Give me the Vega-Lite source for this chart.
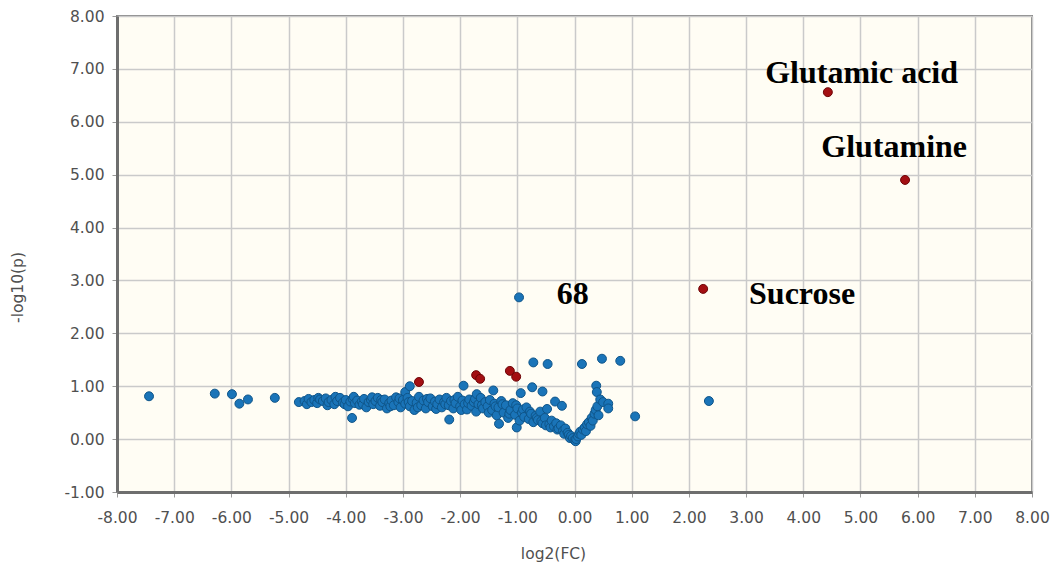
{
  "$schema": "https://vega.github.io/schema/vega-lite/v6.json",
  "autosize": {"type": "none"},
  "width": 915,
  "height": 476,
  "padding": {"left": 117, "top": 16, "right": 24, "bottom": 77},
  "background": "#ffffff",
  "config": {
    "view": {"fill": "#FFFDF4", "stroke": "#858585", "strokeWidth": 2},
    "axis": {
      "labelFont": "DejaVu Sans",
      "labelFontSize": 15.5,
      "labelColor": "#505050",
      "labelOverlap": false,
      "labelFlush": false,
      "titleFont": "DejaVu Sans",
      "titleFontSize": 15.5,
      "titleFontWeight": "normal",
      "titleColor": "#505050",
      "gridColor": "#CACACA",
      "gridWidth": 1.5,
      "domainColor": "#6E6E6E",
      "domainWidth": 3,
      "tickColor": "#9A9A9A",
      "tickSize": 5
    }
  },
  "datasets": {
    "points": [
      {"x": -7.44, "y": 0.81, "g": "ns"},
      {"x": -6.29, "y": 0.86, "g": "ns"},
      {"x": -5.99, "y": 0.85, "g": "ns"},
      {"x": -5.86, "y": 0.67, "g": "ns"},
      {"x": -5.71, "y": 0.75, "g": "ns"},
      {"x": -5.24, "y": 0.78, "g": "ns"},
      {"x": -4.82, "y": 0.70, "g": "ns"},
      {"x": -4.72, "y": 0.72, "g": "ns"},
      {"x": -4.68, "y": 0.66, "g": "ns"},
      {"x": -4.65, "y": 0.76, "g": "ns"},
      {"x": -4.60, "y": 0.70, "g": "ns"},
      {"x": -4.55, "y": 0.74, "g": "ns"},
      {"x": -4.50, "y": 0.68, "g": "ns"},
      {"x": -4.48, "y": 0.78, "g": "ns"},
      {"x": -4.45, "y": 0.75, "g": "ns"},
      {"x": -4.40, "y": 0.72, "g": "ns"},
      {"x": -4.35, "y": 0.77, "g": "ns"},
      {"x": -4.32, "y": 0.64, "g": "ns"},
      {"x": -4.30, "y": 0.70, "g": "ns"},
      {"x": -4.25, "y": 0.74, "g": "ns"},
      {"x": -4.20, "y": 0.66, "g": "ns"},
      {"x": -4.18, "y": 0.80, "g": "ns"},
      {"x": -4.15, "y": 0.72, "g": "ns"},
      {"x": -4.10, "y": 0.78, "g": "ns"},
      {"x": -4.05, "y": 0.69, "g": "ns"},
      {"x": -4.02, "y": 0.66, "g": "ns"},
      {"x": -4.00, "y": 0.74, "g": "ns"},
      {"x": -3.96, "y": 0.62, "g": "ns"},
      {"x": -3.92, "y": 0.71, "g": "ns"},
      {"x": -3.89, "y": 0.40, "g": "ns"},
      {"x": -3.88, "y": 0.76, "g": "ns"},
      {"x": -3.86, "y": 0.80, "g": "ns"},
      {"x": -3.84, "y": 0.68, "g": "ns"},
      {"x": -3.80, "y": 0.73, "g": "ns"},
      {"x": -3.76, "y": 0.65, "g": "ns"},
      {"x": -3.72, "y": 0.71, "g": "ns"},
      {"x": -3.70, "y": 0.66, "g": "ns"},
      {"x": -3.68, "y": 0.76, "g": "ns"},
      {"x": -3.64, "y": 0.60, "g": "ns"},
      {"x": -3.60, "y": 0.70, "g": "ns"},
      {"x": -3.56, "y": 0.74, "g": "ns"},
      {"x": -3.54, "y": 0.79, "g": "ns"},
      {"x": -3.52, "y": 0.66, "g": "ns"},
      {"x": -3.48, "y": 0.72, "g": "ns"},
      {"x": -3.44, "y": 0.78, "g": "ns"},
      {"x": -3.40, "y": 0.63, "g": "ns"},
      {"x": -3.38, "y": 0.74, "g": "ns"},
      {"x": -3.36, "y": 0.70, "g": "ns"},
      {"x": -3.32, "y": 0.75, "g": "ns"},
      {"x": -3.28, "y": 0.58, "g": "ns"},
      {"x": -3.24, "y": 0.68, "g": "ns"},
      {"x": -3.22, "y": 0.62, "g": "ns"},
      {"x": -3.20, "y": 0.73, "g": "ns"},
      {"x": -3.16, "y": 0.64, "g": "ns"},
      {"x": -3.12, "y": 0.79, "g": "ns"},
      {"x": -3.08, "y": 0.70, "g": "ns"},
      {"x": -3.06, "y": 0.77, "g": "ns"},
      {"x": -3.04, "y": 0.60, "g": "ns"},
      {"x": -3.00, "y": 0.74, "g": "ns"},
      {"x": -2.96, "y": 0.67, "g": "ns"},
      {"x": -2.96, "y": 0.89, "g": "ns"},
      {"x": -2.92, "y": 0.78, "g": "ns"},
      {"x": -2.90, "y": 0.70, "g": "ns"},
      {"x": -2.88, "y": 1.00, "g": "ns"},
      {"x": -2.88, "y": 0.62, "g": "ns"},
      {"x": -2.84, "y": 0.72, "g": "ns"},
      {"x": -2.80, "y": 0.55, "g": "ns"},
      {"x": -2.76, "y": 0.69, "g": "ns"},
      {"x": -2.74, "y": 0.60, "g": "ns"},
      {"x": -2.72, "y": 0.80, "g": "ns"},
      {"x": -2.68, "y": 0.64, "g": "ns"},
      {"x": -2.64, "y": 0.73, "g": "ns"},
      {"x": -2.60, "y": 0.58, "g": "ns"},
      {"x": -2.58, "y": 0.76, "g": "ns"},
      {"x": -2.56, "y": 0.70, "g": "ns"},
      {"x": -2.52, "y": 0.77, "g": "ns"},
      {"x": -2.48, "y": 0.62, "g": "ns"},
      {"x": -2.44, "y": 0.71, "g": "ns"},
      {"x": -2.42, "y": 0.57, "g": "ns"},
      {"x": -2.40, "y": 0.66, "g": "ns"},
      {"x": -2.36, "y": 0.75, "g": "ns"},
      {"x": -2.32, "y": 0.60, "g": "ns"},
      {"x": -2.28, "y": 0.70, "g": "ns"},
      {"x": -2.26, "y": 0.66, "g": "ns"},
      {"x": -2.24, "y": 0.78, "g": "ns"},
      {"x": -2.20, "y": 0.64, "g": "ns"},
      {"x": -2.19, "y": 0.37, "g": "ns"},
      {"x": -2.16, "y": 0.72, "g": "ns"},
      {"x": -2.12, "y": 0.58, "g": "ns"},
      {"x": -2.10, "y": 0.74, "g": "ns"},
      {"x": -2.08, "y": 0.68, "g": "ns"},
      {"x": -2.04, "y": 0.80, "g": "ns"},
      {"x": -2.00, "y": 0.62, "g": "ns"},
      {"x": -1.98, "y": 0.55, "g": "ns"},
      {"x": -1.96, "y": 0.73, "g": "ns"},
      {"x": -1.94, "y": 1.01, "g": "ns"},
      {"x": -1.92, "y": 0.66, "g": "ns"},
      {"x": -1.88, "y": 0.56, "g": "ns"},
      {"x": -1.86, "y": 0.68, "g": "ns"},
      {"x": -1.84, "y": 0.75, "g": "ns"},
      {"x": -1.80, "y": 0.63, "g": "ns"},
      {"x": -1.76, "y": 0.70, "g": "ns"},
      {"x": -1.74, "y": 0.76, "g": "ns"},
      {"x": -1.72, "y": 0.52, "g": "ns"},
      {"x": -1.71, "y": 0.85, "g": "ns"},
      {"x": -1.68, "y": 0.66, "g": "ns"},
      {"x": -1.64, "y": 0.78, "g": "ns"},
      {"x": -1.62, "y": 0.64, "g": "ns"},
      {"x": -1.60, "y": 0.58, "g": "ns"},
      {"x": -1.56, "y": 0.70, "g": "ns"},
      {"x": -1.52, "y": 0.62, "g": "ns"},
      {"x": -1.50, "y": 0.50, "g": "ns"},
      {"x": -1.48, "y": 0.74, "g": "ns"},
      {"x": -1.44, "y": 0.55, "g": "ns"},
      {"x": -1.42, "y": 0.92, "g": "ns"},
      {"x": -1.40, "y": 0.67, "g": "ns"},
      {"x": -1.38, "y": 0.62, "g": "ns"},
      {"x": -1.36, "y": 0.45, "g": "ns"},
      {"x": -1.33, "y": 0.60, "g": "ns"},
      {"x": -1.32, "y": 0.29, "g": "ns"},
      {"x": -1.28, "y": 0.72, "g": "ns"},
      {"x": -1.26, "y": 0.66, "g": "ns"},
      {"x": -1.24, "y": 0.50, "g": "ns"},
      {"x": -1.20, "y": 0.64, "g": "ns"},
      {"x": -1.16, "y": 0.40, "g": "ns"},
      {"x": -1.14, "y": 0.48, "g": "ns"},
      {"x": -1.12, "y": 0.55, "g": "ns"},
      {"x": -1.08, "y": 0.68, "g": "ns"},
      {"x": -1.04, "y": 0.46, "g": "ns"},
      {"x": -1.02, "y": 0.64, "g": "ns"},
      {"x": -1.01, "y": 0.22, "g": "ns"},
      {"x": -1.00, "y": 0.58, "g": "ns"},
      {"x": -0.97, "y": 2.68, "g": "ns"},
      {"x": -0.96, "y": 0.35, "g": "ns"},
      {"x": -0.94, "y": 0.87, "g": "ns"},
      {"x": -0.92, "y": 0.50, "g": "ns"},
      {"x": -0.90, "y": 0.56, "g": "ns"},
      {"x": -0.88, "y": 0.42, "g": "ns"},
      {"x": -0.84, "y": 0.60, "g": "ns"},
      {"x": -0.80, "y": 0.38, "g": "ns"},
      {"x": -0.78, "y": 0.52, "g": "ns"},
      {"x": -0.76, "y": 0.48, "g": "ns"},
      {"x": -0.74, "y": 0.98, "g": "ns"},
      {"x": -0.72, "y": 1.45, "g": "ns"},
      {"x": -0.72, "y": 0.32, "g": "ns"},
      {"x": -0.68, "y": 0.44, "g": "ns"},
      {"x": -0.66, "y": 0.40, "g": "ns"},
      {"x": -0.64, "y": 0.36, "g": "ns"},
      {"x": -0.60, "y": 0.52, "g": "ns"},
      {"x": -0.58, "y": 0.34, "g": "ns"},
      {"x": -0.56, "y": 0.90, "g": "ns"},
      {"x": -0.56, "y": 0.30, "g": "ns"},
      {"x": -0.52, "y": 0.40, "g": "ns"},
      {"x": -0.50, "y": 0.26, "g": "ns"},
      {"x": -0.48, "y": 0.57, "g": "ns"},
      {"x": -0.47, "y": 1.42, "g": "ns"},
      {"x": -0.44, "y": 0.28, "g": "ns"},
      {"x": -0.42, "y": 0.22, "g": "ns"},
      {"x": -0.40, "y": 0.35, "g": "ns"},
      {"x": -0.36, "y": 0.24, "g": "ns"},
      {"x": -0.34, "y": 0.71, "g": "ns"},
      {"x": -0.32, "y": 0.30, "g": "ns"},
      {"x": -0.30, "y": 0.18, "g": "ns"},
      {"x": -0.28, "y": 0.20, "g": "ns"},
      {"x": -0.24, "y": 0.26, "g": "ns"},
      {"x": -0.22, "y": 0.63, "g": "ns"},
      {"x": -0.20, "y": 0.16, "g": "ns"},
      {"x": -0.18, "y": 0.10, "g": "ns"},
      {"x": -0.16, "y": 0.20, "g": "ns"},
      {"x": -0.12, "y": 0.12, "g": "ns"},
      {"x": -0.10, "y": 0.08, "g": "ns"},
      {"x": -0.08, "y": 0.02, "g": "ns"},
      {"x": -0.06, "y": 0.06, "g": "ns"},
      {"x": -0.03, "y": 0.02, "g": "ns"},
      {"x": 0.00, "y": -0.02, "g": "ns"},
      {"x": 0.02, "y": -0.04, "g": "ns"},
      {"x": 0.03, "y": 0.00, "g": "ns"},
      {"x": 0.06, "y": 0.05, "g": "ns"},
      {"x": 0.08, "y": 0.10, "g": "ns"},
      {"x": 0.10, "y": 0.14, "g": "ns"},
      {"x": 0.12, "y": 0.08, "g": "ns"},
      {"x": 0.13, "y": 1.42, "g": "ns"},
      {"x": 0.15, "y": 0.18, "g": "ns"},
      {"x": 0.18, "y": 0.22, "g": "ns"},
      {"x": 0.20, "y": 0.15, "g": "ns"},
      {"x": 0.22, "y": 0.28, "g": "ns"},
      {"x": 0.25, "y": 0.32, "g": "ns"},
      {"x": 0.28, "y": 0.25, "g": "ns"},
      {"x": 0.30, "y": 0.40, "g": "ns"},
      {"x": 0.32, "y": 0.35, "g": "ns"},
      {"x": 0.35, "y": 0.48, "g": "ns"},
      {"x": 0.37, "y": 0.55, "g": "ns"},
      {"x": 0.38, "y": 1.01, "g": "ns"},
      {"x": 0.39, "y": 0.89, "g": "ns"},
      {"x": 0.40, "y": 0.62, "g": "ns"},
      {"x": 0.42, "y": 0.45, "g": "ns"},
      {"x": 0.45, "y": 0.75, "g": "ns"},
      {"x": 0.48, "y": 1.52, "g": "ns"},
      {"x": 0.50, "y": 0.70, "g": "ns"},
      {"x": 0.59, "y": 0.67, "g": "ns"},
      {"x": 0.59, "y": 0.58, "g": "ns"},
      {"x": 0.80, "y": 1.48, "g": "ns"},
      {"x": 1.06, "y": 0.43, "g": "ns"},
      {"x": 2.35, "y": 0.72, "g": "ns"},
      {"x": -2.72, "y": 1.08, "g": "sig"},
      {"x": -1.72, "y": 1.21, "g": "sig"},
      {"x": -1.65, "y": 1.14, "g": "sig"},
      {"x": -1.13, "y": 1.29, "g": "sig"},
      {"x": -1.02, "y": 1.18, "g": "sig"},
      {"x": 2.25, "y": 2.84, "g": "sig"},
      {"x": 4.43, "y": 6.56, "g": "sig"},
      {"x": 5.78, "y": 4.90, "g": "sig"}
    ],
    "labels": [
      {"x": 5.02, "y": 6.73, "text": "Glutamic acid"},
      {"x": 5.59, "y": 5.33, "text": "Glutamine"},
      {"x": 3.98, "y": 2.56, "text": "Sucrose"},
      {"x": -0.03, "y": 2.56, "text": "68"}
    ]
  },
  "layer": [
    {
      "data": {"name": "points"},
      "mark": {"type": "circle", "size": 80, "opacity": 1, "strokeWidth": 1},
      "encoding": {
        "x": {
          "field": "x",
          "type": "quantitative",
          "title": "log2(FC)",
          "scale": {"domain": [-8, 8], "nice": false, "zero": false},
          "axis": {
            "values": [-8, -7, -6, -5, -4, -3, -2, -1, 0, 1, 2, 3, 4, 5, 6, 7, 8],
            "labelExpr": "replace(format(datum.value, '.2f'), '\u2212', '-')",
            "labelPadding": 13,
            "titleX": 436,
            "titleY": 54,
            "titleAnchor": "middle",
            "titleBaseline": "top"
          }
        },
        "y": {
          "field": "y",
          "type": "quantitative",
          "title": "-log10(p)",
          "scale": {"domain": [-1, 8], "nice": false, "zero": false},
          "axis": {
            "values": [-1, 0, 1, 2, 3, 4, 5, 6, 7, 8],
            "labelExpr": "replace(format(datum.value, '.2f'), '\u2212', '-')",
            "labelPadding": 8,
            "titleX": -100,
            "titleY": 271,
            "titleAngle": -90,
            "titleAnchor": "middle",
            "titleBaseline": "middle"
          }
        },
        "fill": {
          "field": "g",
          "type": "nominal",
          "scale": {"domain": ["ns", "sig"], "range": ["#1A74B8", "#A30F12"]},
          "legend": null
        },
        "stroke": {
          "field": "g",
          "type": "nominal",
          "scale": {"domain": ["ns", "sig"], "range": ["#0F5589", "#6E0507"]},
          "legend": null
        }
      }
    },
    {
      "data": {"name": "labels"},
      "mark": {
        "type": "text",
        "font": "Liberation Serif",
        "fontWeight": "bold",
        "fontSize": 32,
        "color": "#000000",
        "align": "center",
        "baseline": "alphabetic"
      },
      "encoding": {
        "x": {"field": "x", "type": "quantitative"},
        "y": {"field": "y", "type": "quantitative"},
        "text": {"field": "text", "type": "nominal"}
      }
    }
  ]
}
